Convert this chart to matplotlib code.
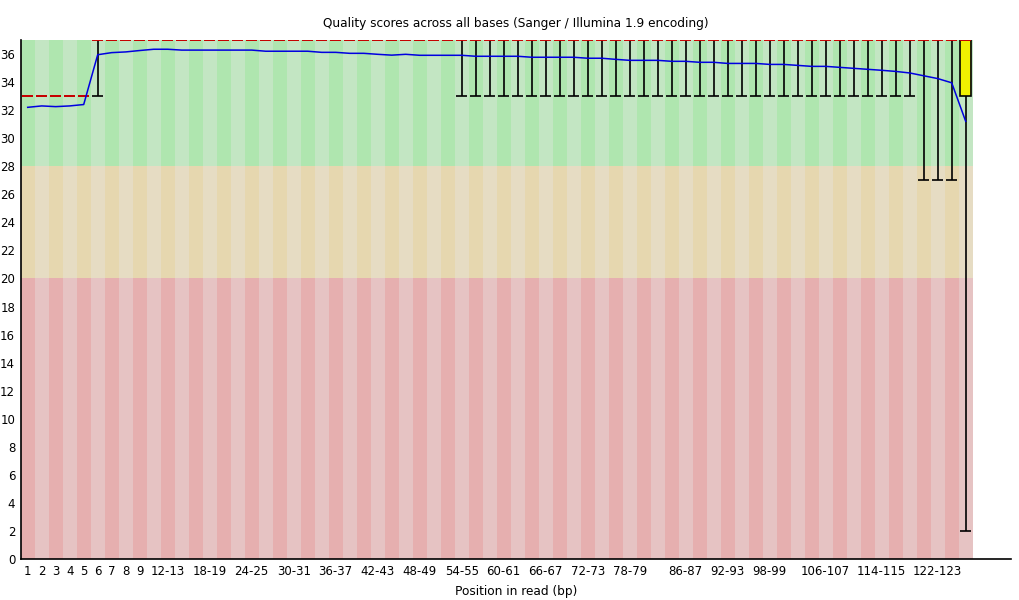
import matplotlib
matplotlib.use("Agg")
import matplotlib.pyplot as plt

# per-base categories (FastQC style bins)
categories = ["1", "2", "3", "4", "5", "6", "7", "8", "9",
              "10-11", "12-13", "14-15", "16-17", "18-19", "20-21", "22-23",
              "24-25", "26-27", "28-29", "30-31", "32-33", "34-35", "36-37",
              "38-39", "40-41", "42-43", "44-45", "46-47", "48-49", "50-51",
              "52-53", "54-55", "56-57", "58-59", "60-61", "62-63", "64-65",
              "66-67", "68-69", "70-71", "72-73", "74-75", "76-77", "78-79",
              "80-81", "82-83", "84-85", "86-87", "88-89", "90-91", "92-93",
              "94-95", "96-97", "98-99", "100-101", "102-103", "104-105",
              "106-107", "108-109", "110-111", "112-113", "114-115", "116-117",
              "118-119", "120-121", "122-123", "124-125", "126"]

shown_labels = ["1", "2", "3", "4", "5", "6", "7", "8", "9", "12-13", "18-19",
                "24-25", "30-31", "36-37", "42-43", "48-49", "54-55", "60-61",
                "66-67", "72-73", "78-79", "86-87", "92-93", "98-99",
                "106-107", "114-115", "122-123"]

means = [32.2, 32.3, 32.25, 32.3, 32.4, 35.95, 36.1, 36.15, 36.25, 36.34,
         36.34, 36.28, 36.28, 36.28, 36.28, 36.28, 36.28, 36.2, 36.2, 36.2,
         36.2, 36.12, 36.12, 36.05, 36.05, 35.98, 35.92, 35.98, 35.91, 35.91,
         35.91, 35.91, 35.84, 35.84, 35.84, 35.84, 35.77, 35.77, 35.77, 35.77,
         35.7, 35.7, 35.62, 35.55, 35.55, 35.55, 35.48, 35.48, 35.41, 35.41,
         35.33, 35.33, 35.33, 35.26, 35.26, 35.19, 35.12, 35.12, 35.05, 34.98,
         34.91, 34.84, 34.76, 34.65, 34.45, 34.25, 33.95, 31.2]

medians = [33] * 5 + [37] * 63
q1 = [33] * 5 + [37] * 62 + [33]
q3 = [33] * 5 + [37] * 63
p10 = [33] * 5 + [33] + [37] * 25 + [33] * 33 + [27] * 3 + [2]
p90 = [33] * 5 + [37] * 63

GOOD = ["#afe6af", "#c3e6c3"]
BAD = ["#e6d7af", "#e6dcc3"]
UGLY = ["#e6afaf", "#e6c3c3"]

fig = plt.figure(figsize=(10.2, 6), dpi=100)
ax = fig.add_axes([20.7 / 1020, 41 / 600, (1011 - 20.7) / 1020, 519 / 600])

x = list(range(1, len(categories) + 1))
for i in x:
    k = (i - 1) % 2
    ax.bar(i, 20, bottom=0, width=1, color=UGLY[k], linewidth=0)
    ax.bar(i, 8, bottom=20, width=1, color=BAD[k], linewidth=0)
    ax.bar(i, 9, bottom=28, width=1, color=GOOD[k], linewidth=0)

w = 0.78
for i, lo, a, b, hi in zip(x, p10, q1, q3, p90):
    if b > a:
        ax.bar(i, b - a, bottom=a, width=w, color="#f0f000",
               edgecolor="black", linewidth=1.2, zorder=3)
    ax.vlines(i, lo, a, color="black", linewidth=1.2, zorder=3)
    ax.vlines(i, b, hi, color="black", linewidth=1.2, zorder=3)
    ax.hlines([lo, hi], i - w / 2, i + w / 2, color="black", linewidth=1.2, zorder=3)

ax.hlines(medians, [i - w / 2 for i in x], [i + w / 2 for i in x],
          color="#ee0000", linewidth=1.2, zorder=4)
ax.plot(x, means, color="#0000e0", linewidth=1.1, zorder=5)

ax.set_xlim(0.5, 0.5 + (1011 - 20.7) / 14)
ax.set_ylim(0, 37)
ax.set_yticks(range(0, 37, 2))
ax.set_xticks([categories.index(s) + 1 for s in shown_labels])
ax.set_xticklabels(shown_labels)
ax.tick_params(length=0, labelsize=8.5, pad=4)
for s in ["top", "right"]:
    ax.spines[s].set_visible(False)
ax.spines["left"].set_linewidth(1.2)
ax.spines["bottom"].set_linewidth(1.2)

ax.set_xlabel("Position in read (bp)", fontsize=8.7, labelpad=5)
ax.set_title("Quality scores across all bases (Sanger / Illumina 1.9 encoding)",
             fontsize=8.7, pad=9)

fig.savefig("out.png", dpi=100)
